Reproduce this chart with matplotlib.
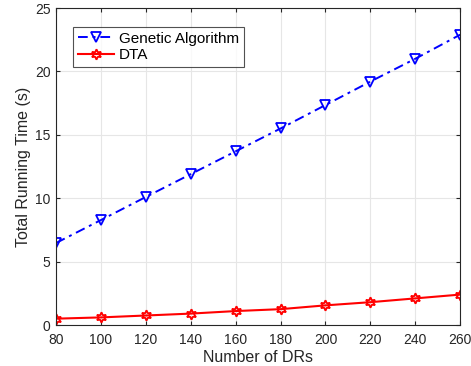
import matplotlib
matplotlib.use("Agg")
import matplotlib.pyplot as plt

plt.rcParams['font.family'] = ['Liberation Sans', 'DejaVu Sans']

num_drs = [80, 100, 120, 140, 160, 180, 200, 220, 240, 260]
genetic = [6.47, 8.28, 10.1, 11.9, 13.7, 15.5, 17.35, 19.2, 21.0, 22.9]
dta = [0.5, 0.6, 0.75, 0.9, 1.1, 1.25, 1.55, 1.8, 2.1, 2.4]
xticks = [80, 100, 120, 140, 160, 180, 200, 220, 240, 260]
yticks = [0, 5, 10, 15, 20, 25]

fig = plt.figure(figsize=(4.71, 3.66), dpi=100)
ax = fig.add_axes([0.119, 0.112, 0.858, 0.866])

ax.plot(num_drs, genetic, color='#0000ff', linestyle=(0, (5, 2.5, 1.5, 2.5)), linewidth=1.4,
        marker='v', markersize=6.5, markerfacecolor='none', markeredgewidth=1.3,
        label='Genetic Algorithm')
ax.plot(num_drs, dta, color='#ff0000', linestyle='-', linewidth=1.5,
        marker=(6, 1, 0), markersize=7.5, markerfacecolor='none', markeredgewidth=1.3,
        label='DTA')

ax.set_xlim(80, 260)
ax.set_ylim(0, 25)
ax.set_xticks(xticks)
ax.set_yticks(yticks)
ax.grid(True, color='#e6e6e6', linewidth=0.8)
ax.set_axisbelow(True)
ax.tick_params(direction='in', labelsize=10, length=3, top=True, right=True, colors='#262626')
ax.tick_params(axis='x', pad=6)
ax.tick_params(axis='y', pad=4)
for s in ax.spines.values():
    s.set_color('#262626')
    s.set_linewidth(0.8)
ax.set_xlabel('Number of DRs', fontsize=11.5, color='#262626', labelpad=2)
ax.set_ylabel('Total Running Time (s)', fontsize=11.5, color='#262626', labelpad=3)

leg = ax.legend(loc='upper left', bbox_to_anchor=(0.042, 0.94), fontsize=11,
                frameon=True, fancybox=False, edgecolor='#262626',
                handlelength=2.4, borderpad=0.3, labelspacing=0.15, handletextpad=0.3,
                borderaxespad=0)
leg.get_frame().set_linewidth(0.8)

fig.savefig('out.png', dpi=100)
